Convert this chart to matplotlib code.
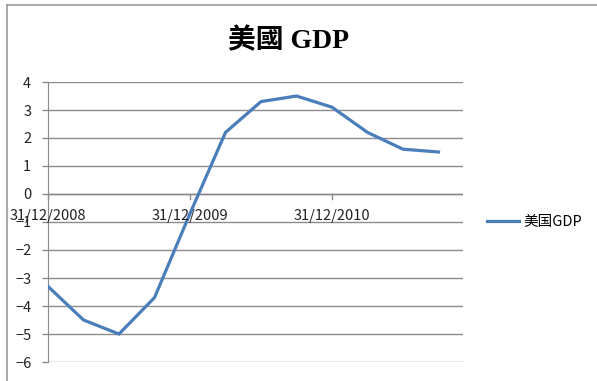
import numpy as np
import matplotlib.pyplot as plt
from matplotlib.lines import Line2D

# quarterly US GDP growth, %
quarters = ['31/12/2008', '31/03/2009', '30/06/2009', '30/09/2009',
            '31/12/2009', '31/03/2010', '30/06/2010', '30/09/2010',
            '31/12/2010', '31/03/2011', '30/06/2011', '30/09/2011']
gdp = [-3.3, -4.5, -5.0, -3.7, -0.7, 2.2, 3.3, 3.5, 3.1, 2.2, 1.6, 1.5]
tick_labels = ['31/12/2008', '31/12/2009', '31/12/2010']

plt.rcParams['font.family'] = ['Noto Sans CJK SC', 'DejaVu Sans']

W, H = 597, 381
fig = plt.figure(figsize=(W / 100, H / 100), dpi=100)
ax = fig.add_axes([48 / W, 1 - 362 / H, (463 - 48) / W, (362 - 82) / H])

x = np.arange(len(quarters))
ax.plot(x, gdp, color='#4a7ebb', lw=2.3, solid_joinstyle='miter', label='美国GDP', zorder=3)

grid_c = '#8c8c8c'
txt_c = '#222222'
ax.set_ylim(-6, 4)
ax.set_yticks(range(-6, 5))
ax.set_xlim(0, 11.69)
ax.grid(axis='y', color=grid_c, lw=1)
ax.set_axisbelow(True)

for s in ['top', 'right', 'bottom']:
    ax.spines[s].set_visible(False)
ax.spines['left'].set_color(grid_c)
ax.axhline(0, color='#868686', lw=1, zorder=2)

# category axis crosses at zero: ticks and labels hang off the zero line
ax.set_xticks([])
for t in tick_labels:
    pos = quarters.index(t)
    ax.plot([pos, pos], [0, -0.17], color=grid_c, lw=1, clip_on=False, zorder=2)
    ax.text(pos, -0.8, t, ha='center', va='center', fontsize=10.5, color=txt_c)

ax.tick_params(axis='y', length=4, width=1, color=grid_c, pad=8, labelsize=10.5, labelcolor=txt_c)

fig.text(288 / W, 1 - 41 / H, '美國 GDP', ha='center', va='center', fontsize=20,
         fontweight='bold', family=['Liberation Serif', 'Noto Sans CJK TC'])

fig.legend(loc='center left', bbox_to_anchor=(487 / W, 1 - 222 / H), frameon=False,
           fontsize=10.5, handlelength=2.2, handletextpad=0.3, borderpad=0, borderaxespad=0)

# chart frame
fig.add_artist(Line2D([7 / W, 1], [1 - 5 / H, 1 - 5 / H], color='#9a9a9a', lw=1.2))
fig.add_artist(Line2D([7 / W, 7 / W], [0, 1 - 5 / H], color='#9a9a9a', lw=1.2))

fig.savefig('out.png', dpi=100)
